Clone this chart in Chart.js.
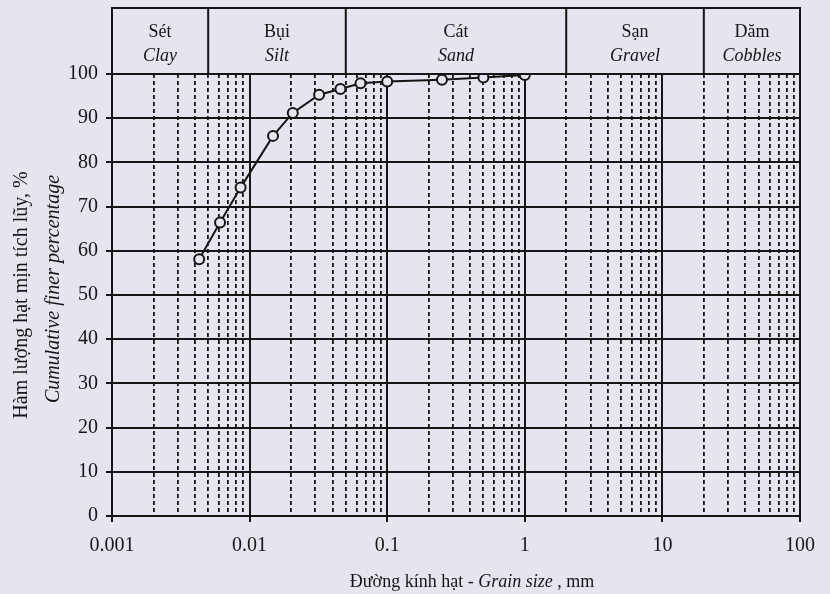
<!DOCTYPE html>
<html>
<head>
<meta charset="utf-8">
<script src="https://cdn.jsdelivr.net/npm/chart.js@4"></script>
<style>
  html, body { margin: 0; padding: 0; background: #e6e4ef; }
  canvas { display: block; }
</style>
</head>
<body>
<canvas id="gsd" width="830" height="594"></canvas>
<script>
// ===== data =====
const grainSize = [0.0043, 0.0061, 0.0086, 0.0148, 0.0206, 0.032, 0.0457, 0.064, 0.1, 0.25, 0.5, 1.0];
const finerPct  = [58.1, 66.4, 74.3, 86.0, 91.2, 95.3, 96.6, 97.9, 98.3, 98.7, 99.2, 99.8];

const decades = [0.001, 0.01, 0.1, 1, 10, 100];
const xTickLabels = ['0.001', '0.01', '0.1', '1', '10', '100'];
const yTicks = [0, 10, 20, 30, 40, 50, 60, 70, 80, 90, 100];

// soil classes in the header band
const classBounds = [0.001, 0.005, 0.05, 2, 20, 100];
const classVi = ['Sét', 'Bụi', 'Cát', 'Sạn', 'Dăm'];
const classEn = ['Clay', 'Silt', 'Sand', 'Gravel', 'Cobbles'];

const BG = '#e6e4ef';
const INK = '#151515';
const SERIF = '"Liberation Serif", "DejaVu Serif", serif';

function isDecade(v) {
  const l = Math.log10(v);
  return Math.abs(l - Math.round(l)) < 1e-9;
}

// 1..9 in each decade
const xTicks = [];
decades.slice(0, -1).forEach(d => { for (let m = 1; m < 10; m++) xTicks.push(+(d * m).toPrecision(6)); });
xTicks.push(100);

const decorPlugin = {
  id: 'decor',
  beforeDraw(chart) {
    const c = chart.ctx;
    c.save();
    c.fillStyle = BG;
    c.fillRect(0, 0, chart.width, chart.height);
    c.restore();
  },
  afterDraw(chart) {
    const c = chart.ctx;
    const a = chart.chartArea;
    const x = chart.scales.x;
    const top = 8;
    c.save();
    // header box
    c.strokeStyle = INK;
    c.lineWidth = 2;
    c.strokeRect(a.left, top, a.right - a.left, a.top - top);
    c.textAlign = 'center';
    c.textBaseline = 'middle';
    c.fillStyle = INK;
    for (let i = 0; i < classVi.length; i++) {
      const x0 = x.getPixelForValue(classBounds[i]);
      const x1 = x.getPixelForValue(classBounds[i + 1]);
      if (i > 0) {
        c.beginPath(); c.moveTo(x0, top); c.lineTo(x0, a.top); c.stroke();
      }
      const cx = (x0 + x1) / 2;
      c.font = '18px ' + SERIF;
      c.fillText(classVi[i], cx, 32);
      c.font = 'italic 18px ' + SERIF;
      c.fillText(classEn[i], cx, 56);
    }

    // x title: mixed regular / italic
    const parts = [['Đường kính hạt - ', ''], ['Grain size', 'italic '], [' , mm', '']];
    let w = 0;
    parts.forEach(p => { c.font = p[1] + '18px ' + SERIF; w += c.measureText(p[0]).width; });
    let px = 472 - w / 2;
    c.textAlign = 'left';
    parts.forEach(p => {
      c.font = p[1] + '18px ' + SERIF;
      c.fillText(p[0], px, 582);
      px += c.measureText(p[0]).width;
    });

    // y title, two rotated lines
    const cy = (a.top + a.bottom) / 2;
    c.textAlign = 'center';
    c.translate(22, cy);
    c.rotate(-Math.PI / 2);
    c.font = '20px ' + SERIF;
    c.fillText('Hàm lượng hạt mịn tích lũy, %', 0, 0);
    c.font = 'italic 20px ' + SERIF;
    c.fillText('Cumulative finer percentage', 6, 32);
    c.restore();
  }
};

new Chart(document.getElementById('gsd'), {
  type: 'line',
  data: {
    datasets: [{
      data: grainSize.map((g, i) => ({ x: g, y: finerPct[i] })),
      borderColor: INK,
      borderWidth: 2,
      tension: 0,
      pointRadius: 5,
      pointBorderWidth: 2,
      pointBorderColor: INK,
      pointBackgroundColor: BG
    }]
  },
  options: {
    responsive: false,
    devicePixelRatio: 1,
    animation: false,
    layout: { padding: { left: 0, top: 74, right: 30, bottom: 0 } },
    plugins: { legend: { display: false }, tooltip: { enabled: false } },
    scales: {
      x: {
        type: 'logarithmic',
        min: 0.001, max: 100,
        afterBuildTicks: axis => { axis.ticks = xTicks.map(v => ({ value: v })); },
        afterFit: axis => { axis.height = 78; },
        ticks: {
          autoSkip: false, maxRotation: 0, padding: 12,
          color: INK,
          font: { family: SERIF, size: 20 },
          callback: v => isDecade(v) ? xTickLabels[Math.round(Math.log10(v)) + 3] : ''
        },
        grid: {
          color: INK,
          lineWidth: ctx => (ctx.tick && !isDecade(ctx.tick.value)) ? 1.8 : 2,
          tickLength: 6,
          tickColor: ctx => (ctx.tick && !isDecade(ctx.tick.value)) ? 'rgba(0,0,0,0)' : INK
        },
        border: {
          display: true, color: INK, width: 2,
          dash: ctx => (ctx.tick && !isDecade(ctx.tick.value)) ? [4, 3] : []
        }
      },
      y: {
        min: 0, max: 100,
        afterBuildTicks: axis => { axis.ticks = yTicks.map(v => ({ value: v })); },
        afterFit: axis => { axis.width = 112; },
        ticks: { padding: 8, color: INK, font: { family: SERIF, size: 20 } },
        grid: { color: INK, lineWidth: 2, tickLength: 6, tickColor: INK },
        border: { display: true, color: INK, width: 2 }
      }
    }
  },
  plugins: [decorPlugin]
});
</script>
</body>
</html>
